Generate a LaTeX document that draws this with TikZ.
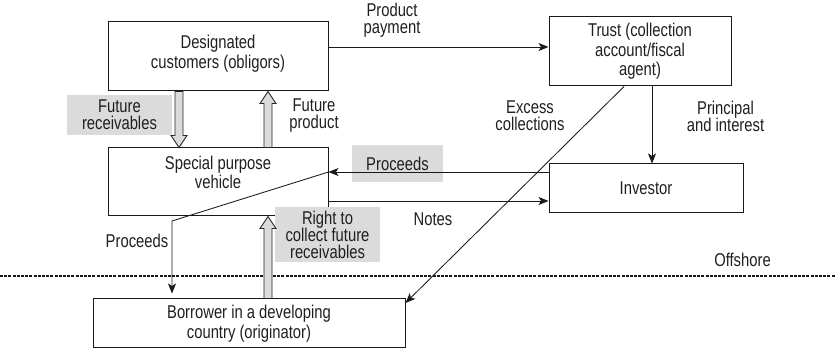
\documentclass[tikz,border=0pt]{standalone}
\usepackage{fontspec}
\setmainfont{Liberation Sans}[FakeStretch=0.8]
\usetikzlibrary{arrows.meta,calc}
\definecolor{lblgray}{gray}{0.86}
\definecolor{txt}{gray}{0.12}
\newcommand\boxfnt{\fontsize{18.5}{19.5}\selectfont\lineskiplimit=-50pt}
\newcommand\lblfnt{\fontsize{18.5}{17}\selectfont\lineskiplimit=-50pt}
\begin{document}
\begin{tikzpicture}[x=1pt,y=-1pt,
  box/.style={draw=black!90, line width=1pt, rectangle, inner sep=0pt, align=center, text=txt, font=\boxfnt},
  btxt/.style={align=center, text=txt, font=\boxfnt, inner sep=0pt},
  lbl/.style={align=center, text=txt, font=\lblfnt, inner sep=0pt},
  gbox/.style={lbl, fill=lblgray},
  arr/.style={draw=black!90, line width=0.85pt, -{Stealth[length=10pt,width=8pt,inset=2.5pt]}},
  fat/.style={draw=black!85, line width=0.85pt, fill=lblgray, line join=miter}]
\useasboundingbox (0,0) rectangle (835,352);

% boxes
\node[box, minimum width=220pt, minimum height=69pt] (desig) at (218,56.5) {};
\node[btxt] (desigt) at (218,53.5) {Designated\\customers (obligors)};
\node[box, minimum width=220pt, minimum height=68pt] (spv) at (218,182) {};
\node[btxt] (spvt) at (218,172.5) {Special purpose\\vehicle};
\node[box, minimum width=182pt, minimum height=69pt] (trust) at (640,51.5) {Trust (collection\\account/fiscal\\agent)};
\node[box, minimum width=194pt, minimum height=49pt] (inv) at (646,188.5) {Investor};
\node[box, minimum width=312pt, minimum height=49pt] (borr) at (249,323.5) {Borrower in a developing\\country (originator)};

% gray labels
\node[gbox, minimum width=105pt, minimum height=40pt] (frl) at (119.5,115) {Future\\receivables};
\node[gbox, minimum width=91pt, minimum height=37pt] (prl) at (397.5,163.5) {Proceeds};
\node[gbox, minimum width=105pt, minimum height=55pt] (rcl) at (327.5,234.5) {Right to\\collect future\\receivables};

% plain labels
\node[lbl] (ppl) at (392,20) {Product\\payment};
\node[lbl] (fpl) at (314,116) {Future\\product};
\node[lbl] (ecl) at (530,116) {Excess\\collections};
\node[lbl] (pil) at (725.5,116) {Principal\\and interest};
\node[lbl] (ntl) at (433,219.5) {Notes};
\node[lbl] (pbl) at (137,240.5) {Proceeds};
\node[lbl] (ofl) at (742.5,259.5) {Offshore};

% offshore line
\coordinate (offL) at (0,276);
\coordinate (offR) at (835,276);
\draw[black!90, line width=1.6pt, dash pattern=on 3pt off 1.2pt] (offL) -- (offR);

% fat arrows
\coordinate (fr1) at (desig.south -| 179,0);
\coordinate (fr2) at (spv.north -| 179,0);
\draw[fat] ($(fr1)+(-4,0)$) -- ($(fr2)+(-4,-12)$) -- ($(fr2)+(-8,-12)$) -- (fr2) -- ($(fr2)+(8,-12)$) -- ($(fr2)+(4,-12)$) -- ($(fr1)+(4,0)$) -- cycle;
\coordinate (fp1) at (spv.north -| 268,0);
\coordinate (fp2) at (desig.south -| 268,0);
\draw[fat] ($(fp1)+(-4,0)$) -- ($(fp2)+(-4,12)$) -- ($(fp2)+(-8,12)$) -- (fp2) -- ($(fp2)+(8,12)$) -- ($(fp2)+(4,12)$) -- ($(fp1)+(4,0)$) -- cycle;
\coordinate (rc1) at (borr.north -| 268,0);
\coordinate (rc2) at (spv.south -| 268,0);
\draw[fat] ($(rc1)+(-4,0)$) -- ($(rc2)+(-4,12)$) -- ($(rc2)+(-8,12)$) -- (rc2) -- ($(rc2)+(8,12)$) -- ($(rc2)+(4,12)$) -- ($(rc1)+(4,0)$) -- cycle;

% thin arrows
\draw[arr] (desig.east |- 0,47) -- (trust.west |- 0,47);
\draw[arr] (trust.south -| 652,0) -- (inv.north -| 652,0);
\draw[arr] (trust.south -| 624,0) -- (borr.east |- 0,303);
\draw[arr] (inv.west |- 0,172) -- (spv.east |- 0,172);
\draw[arr] (spv.east |- 0,201) -- (inv.west |- 0,201);
\coordinate (pbk) at (172,221);
\draw[arr] (spv.east |- 0,172) -- (pbk) -- ($(borr.north -| 172,0)+(0,-5)$);
\end{tikzpicture}
\end{document}
